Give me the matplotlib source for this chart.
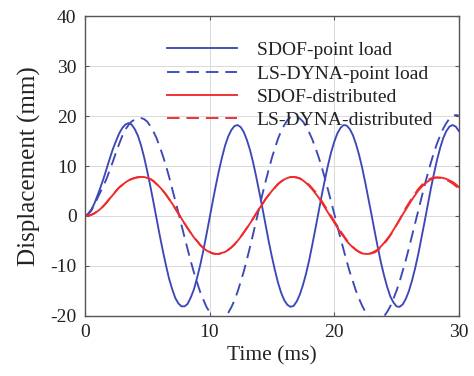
import matplotlib
matplotlib.use("Agg")
import matplotlib.pyplot as plt

# ---- data (one value every 0.25 ms) ----
time_ms = [i * 0.25 for i in range(121)]

sdof_point = [
    0.0, 0.4, 1.2, 2.4, 4.0, 5.7, 7.5, 9.5,
    11.5, 13.4, 15.0, 16.5, 17.6, 18.3, 18.6, 18.3,
    17.4, 16.1, 14.2, 11.8, 9.0, 6.0, 2.8, -0.5,
    -3.8, -6.9, -9.8, -12.5, -14.6, -16.4, -17.5, -18.1,
    -18.1, -17.6, -16.3, -14.7, -12.4, -9.9, -7.0, -3.8,
    -0.5, 2.8, 6.0, 9.0, 11.7, 14.1, 15.9, 17.2,
    18.0, 18.2, 17.8, 16.8, 15.2, 13.2, 10.7, 7.8,
    4.7, 1.5, -1.8, -5.1, -8.1, -10.9, -13.4, -15.4,
    -16.9, -17.8, -18.2, -18.0, -17.1, -15.7, -13.8, -11.5,
    -8.8, -5.7, -2.5, 0.8, 4.1, 7.2, 10.1, 12.7,
    14.8, 16.5, 17.6, 18.2, 18.1, 17.4, 16.2, 14.4,
    12.2, 9.6, 6.6, 3.4, 0.2, -3.1, -6.3, -9.3,
    -11.9, -14.2, -16.1, -17.3, -18.1, -18.2, -17.7, -16.6,
    -15.0, -12.9, -10.4, -7.6, -4.4, -1.2, 2.1, 5.4,
    8.4, 11.2, 13.6, 15.6, 17.0, 17.9, 18.2, 17.9,
    17.0]

lsdyna_point = [
    0.0, 0.3, 1.0, 2.1, 3.5, 4.8, 6.1, 7.5,
    9.2, 10.9, 12.7, 14.4, 16.0, 17.3, 18.2, 18.9,
    19.3, 19.5, 19.6, 19.4, 18.9, 18.0, 16.9, 15.6,
    13.9, 12.1, 10.1, 7.9, 5.5, 3.1, 0.7, -1.8,
    -4.3, -6.7, -9.1, -11.3, -13.3, -15.2, -16.7, -18.2,
    -19.2, -20.1, -20.6, -20.8, -20.7, -20.2, -19.4, -18.3,
    -16.9, -15.2, -13.2, -11.1, -8.7, -6.2, -3.6, -0.9,
    1.7, 4.4, 6.9, 9.3, 11.6, 13.6, 15.5, 17.0,
    18.2, 19.2, 19.8, 20.0, 19.9, 19.5, 18.9, 17.9,
    16.7, 15.3, 13.6, 11.8, 9.8, 7.6, 5.3, 2.9,
    0.5, -2.0, -4.4, -6.7, -9.0, -11.2, -13.1, -15.0,
    -16.6, -18.0, -19.2, -20.0, -20.6, -21.0, -21.0, -20.7,
    -20.1, -19.2, -18.1, -16.6, -15.0, -13.1, -11.0, -8.8,
    -6.4, -3.9, -1.4, 1.1, 3.6, 6.1, 8.4, 10.6,
    12.7, 14.5, 16.1, 17.5, 18.6, 19.5, 20.0, 20.2,
    20.1]

sdof_dist = [
    0.0, 0.05, 0.2, 0.5, 0.9, 1.4, 2.0, 2.7,
    3.5, 4.2, 5.0, 5.7, 6.2, 6.7, 7.1, 7.4,
    7.6, 7.75, 7.8, 7.8, 7.6, 7.4, 7.0, 6.4,
    5.8, 5.1, 4.3, 3.4, 2.5, 1.5, 0.5, -0.5,
    -1.5, -2.5, -3.4, -4.3, -5.0, -5.8, -6.4, -6.9,
    -7.2, -7.5, -7.6, -7.6, -7.4, -7.2, -6.8, -6.3,
    -5.7, -5.0, -4.2, -3.3, -2.4, -1.5, -0.5, 0.5,
    1.5, 2.4, 3.4, 4.2, 5.0, 5.7, 6.4, 6.9,
    7.3, 7.6, 7.8, 7.8, 7.7, 7.5, 7.1, 6.6,
    6.0, 5.3, 4.5, 3.7, 2.7, 1.7, 0.7, -0.3,
    -1.3, -2.3, -3.3, -4.1, -5.0, -5.7, -6.3, -6.8,
    -7.2, -7.5, -7.6, -7.6, -7.4, -7.1, -6.7, -6.1,
    -5.4, -4.6, -3.8, -2.8, -1.8, -0.8, 0.3, 1.3,
    2.3, 3.3, 4.2, 5.1, 5.8, 6.4, 6.9, 7.3,
    7.6, 7.7, 7.7, 7.6, 7.4, 7.1, 6.8, 6.35,
    5.8]

lsdyna_dist = [
    0.0, 0.05, 0.2, 0.5, 0.9, 1.4, 2.0, 2.7,
    3.5, 4.2, 5.0, 5.7, 6.2, 6.7, 7.1, 7.4,
    7.6, 7.75, 7.8, 7.8, 7.6, 7.4, 7.0, 6.4,
    5.8, 5.1, 4.3, 3.4, 2.5, 1.5, 0.5, -0.5,
    -1.5, -2.5, -3.4, -4.3, -5.0, -5.8, -6.4, -6.9,
    -7.2, -7.5, -7.6, -7.6, -7.4, -7.2, -6.8, -6.3,
    -5.7, -5.0, -4.2, -3.3, -2.4, -1.5, -0.5, 0.5,
    1.5, 2.4, 3.4, 4.2, 5.0, 5.7, 6.4, 6.9,
    7.3, 7.6, 7.8, 7.8, 7.7, 7.5, 7.2, 6.7,
    6.2, 5.5, 4.8, 3.9, 3.0, 2.0, 1.0, 0.0,
    -1.0, -2.0, -3.0, -3.9, -4.8, -5.5, -6.2, -6.8,
    -7.2, -7.5, -7.6, -7.6, -7.5, -7.3, -6.9, -6.3,
    -5.6, -4.8, -3.9, -2.9, -1.8, -0.7, 0.5, 1.6,
    2.6, 3.6, 4.5, 5.4, 6.1, 6.7, 7.2, 7.5,
    7.7, 7.7, 7.6, 7.4, 7.2, 6.9, 6.5, 6.0,
    5.5]

labels = ["SDOF-point load", "LS-DYNA-point load",
          "SDOF-distributed", "LS-DYNA-distributed"]
x_ticks = [0, 10, 20, 30]
y_ticks = [-20, -10, 0, 10, 20, 30, 40]

# ---- style ----
plt.rcParams["font.family"] = ["Liberation Serif", "DejaVu Serif"]
plt.rcParams["lines.scale_dashes"] = False
plt.rcParams["axes.unicode_minus"] = False

blue = "#3d48b8"
red = "#f02a2a"

fig = plt.figure(figsize=(4.74, 3.76), dpi=100)
ax = fig.add_axes([0.179, 0.160, 0.789, 0.797])

ax.plot(time_ms, sdof_point, color=blue, lw=1.35, label=labels[0])
ax.plot(time_ms, lsdyna_point, color=blue, lw=1.35, dashes=(9, 5), label=labels[1])
ax.plot(time_ms, sdof_dist, color=red, lw=1.35, label=labels[2])
ax.plot(time_ms, lsdyna_dist, color=red, lw=1.35, dashes=(9, 5), label=labels[3])

ax.set_xlim(0, 30)
ax.set_ylim(-20, 40)
ax.set_xticks(x_ticks)
ax.set_yticks(y_ticks)
ax.grid(True, color="#d9d9d9", lw=0.7)
ax.set_axisbelow(True)

for s in ax.spines.values():
    s.set_color("#555555")
    s.set_linewidth(1.0)

ax.tick_params(direction="in", length=3, width=0.8, color="#555555",
               top=True, right=True, labelsize=14, pad=6, labelcolor="#222222")

ax.set_xlabel("Time (ms)", fontsize=15.5, color="#222222", labelpad=4)
ax.set_ylabel("Displacement (mm)", fontsize=18, color="#222222", labelpad=7)

leg = ax.legend(loc="upper left", bbox_to_anchor=(0.22, 0.915), frameon=False,
                fontsize=14, handlelength=3.6, handletextpad=1.0,
                labelspacing=0.29, borderpad=0, borderaxespad=0)
for t in leg.get_texts():
    t.set_color("#222222")

fig.savefig("out.png", dpi=100)
